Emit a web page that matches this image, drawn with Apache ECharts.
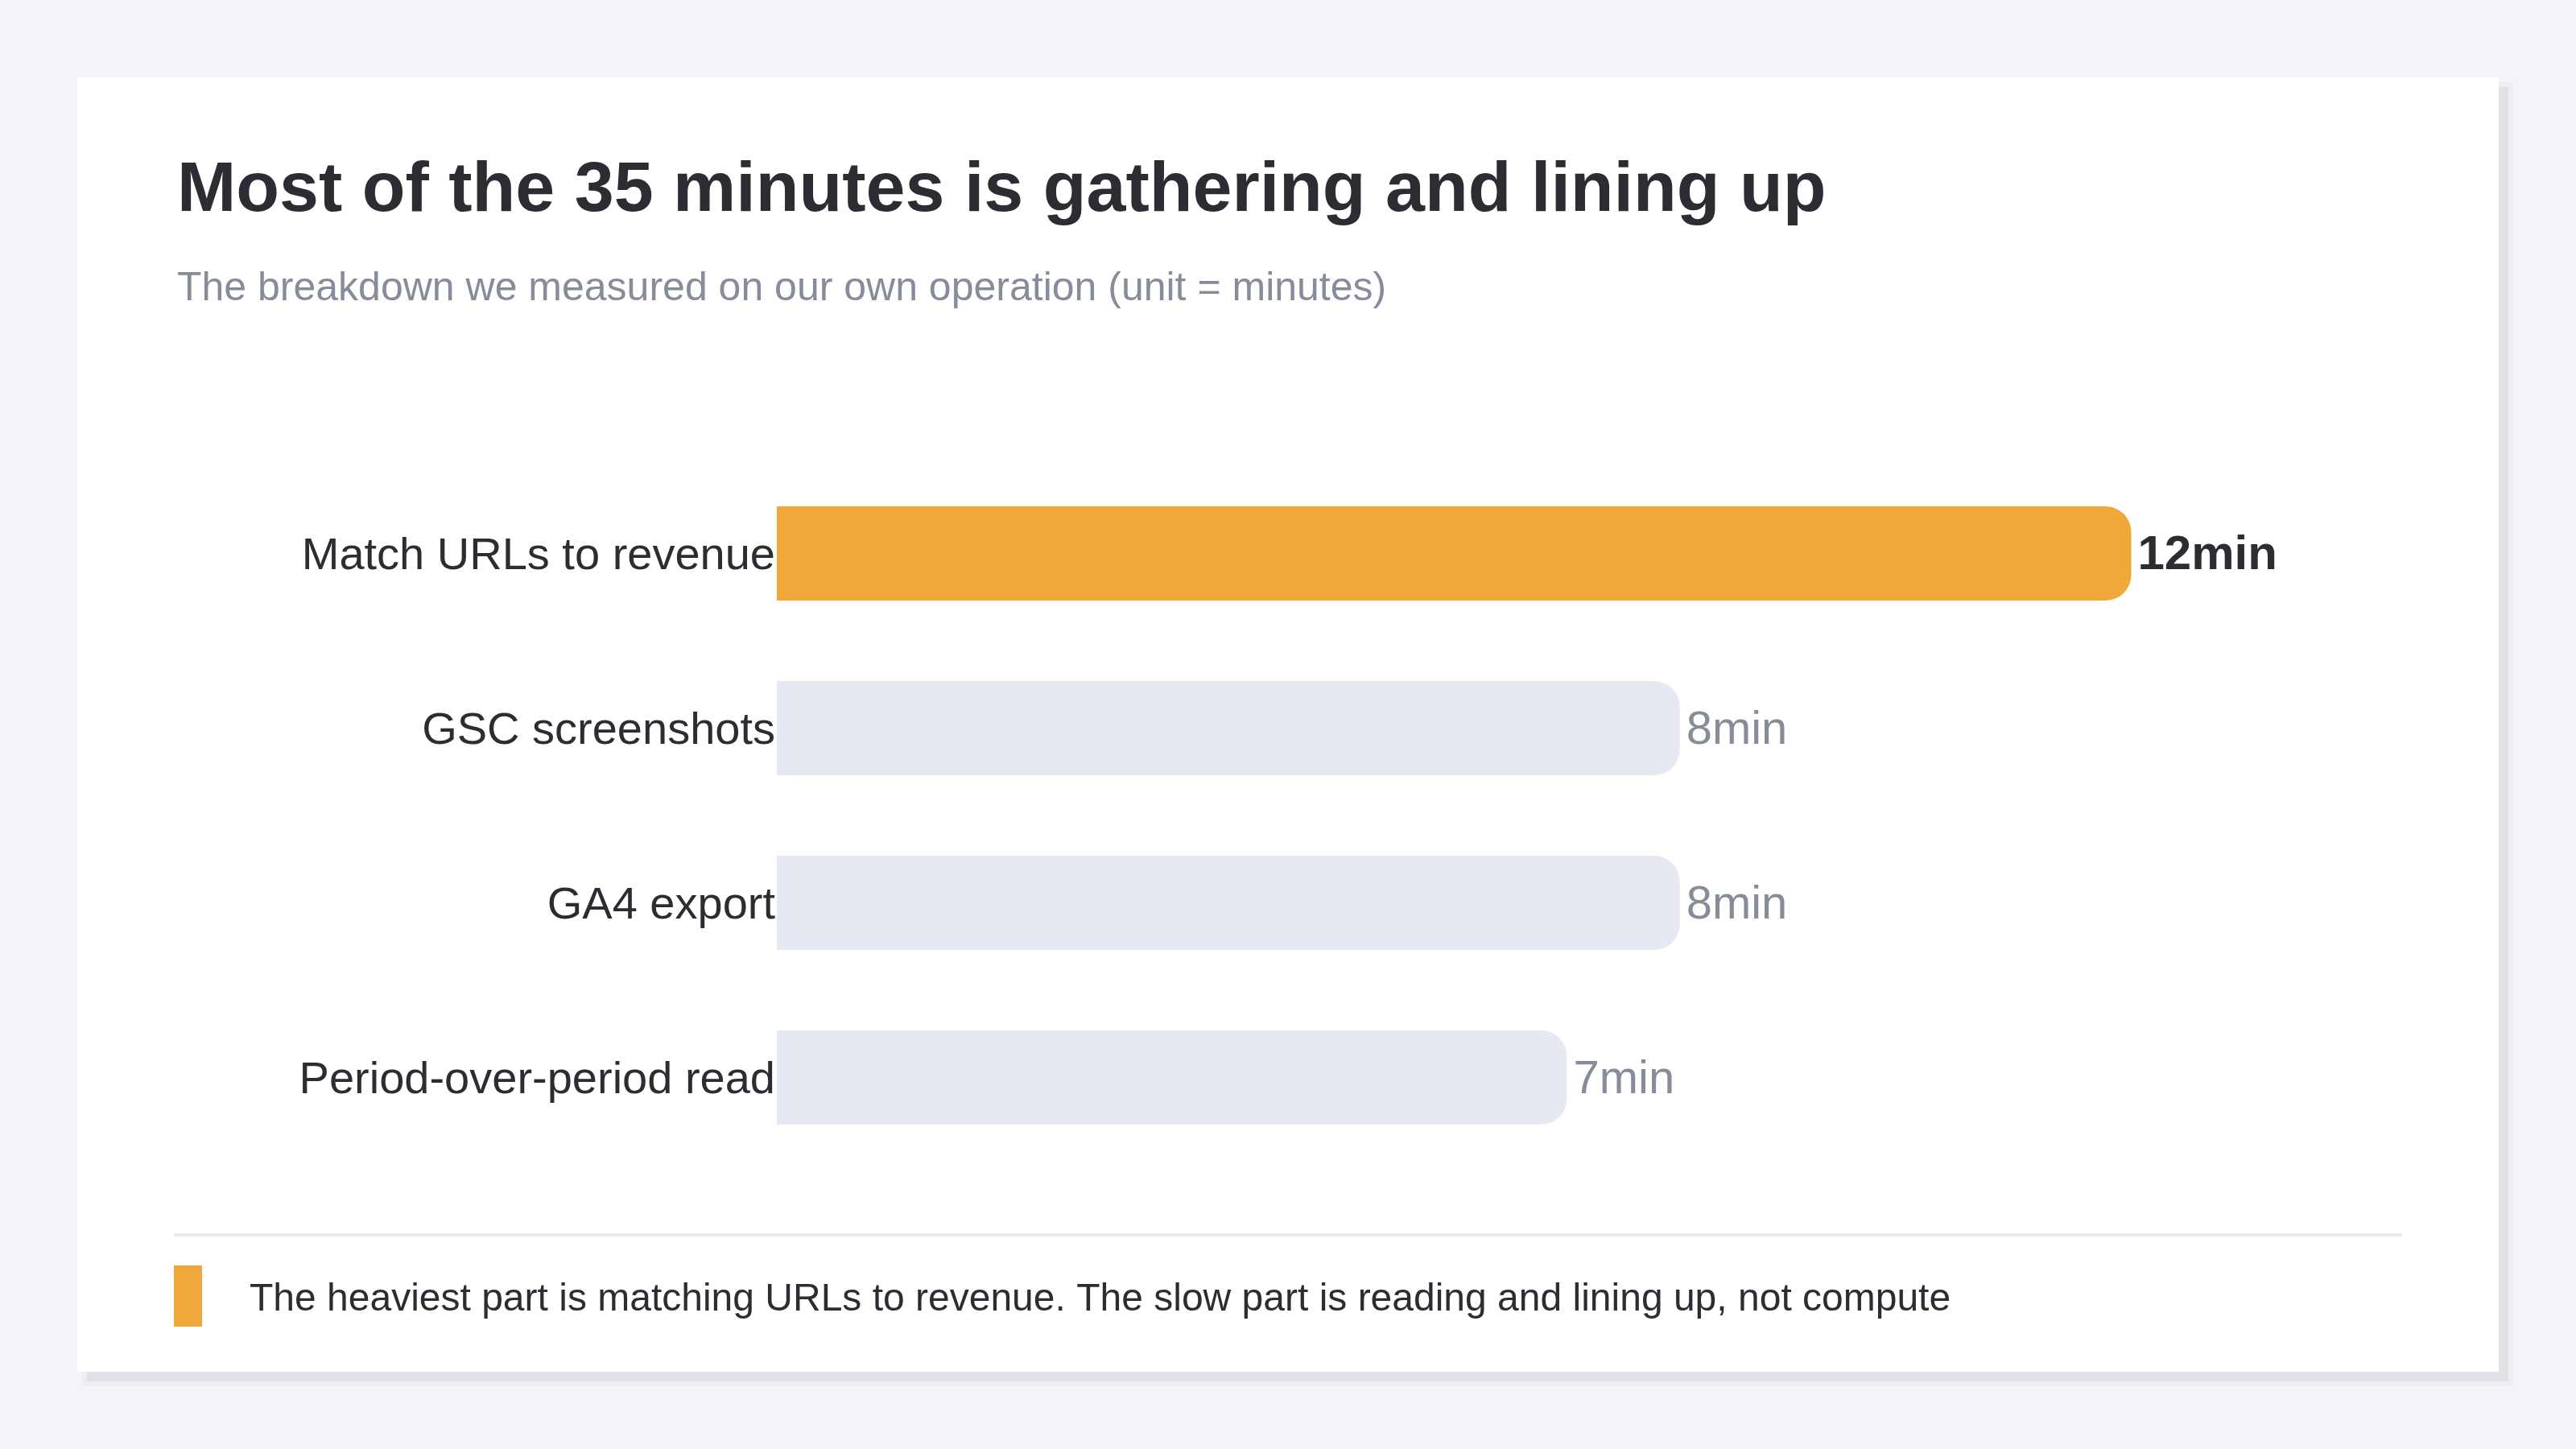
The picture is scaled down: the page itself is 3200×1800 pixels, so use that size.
<!DOCTYPE html>
<html>
<head>
<meta charset="utf-8">
<script src="https://cdn.jsdelivr.net/npm/echarts@6/dist/echarts.min.js"></script>
<style>
  html, body { margin: 0; padding: 0; background: #f3f4f8; }
  #main { width: 3200px; height: 1800px; }
</style>
</head>
<body>
<div id="main"></div>
<script>
/*########  data  ########*/
var categories = ['Match URLs to revenue', 'GSC screenshots', 'GA4 export', 'Period-over-period read'];
var minutes = [12, 8, 8, 7];
var highlight = [true, false, false, false];

var titleText = 'Most of the 35 minutes is gathering and lining up';
var subText = 'The breakdown we measured on our own operation (unit = minutes)';
var noteText = 'The heaviest part is matching URLs to revenue. The slow part is reading and lining up, not compute';

var ORANGE = '#f0a83b';
var GREY_BAR = '#e6e9f1';
var DARK = '#2b2d33';
var GREY_TXT = '#868c99';
var FONT = '"Liberation Sans", Arial, Helvetica, sans-serif';

var barData = minutes.map(function (v, i) {
    var hot = highlight[i];
    return {
        value: v,
        itemStyle: { color: hot ? ORANGE : GREY_BAR },
        label: {
            color: hot ? DARK : GREY_TXT,
            fontWeight: hot ? 'bold' : 'normal',
            fontSize: hot ? 60 : 58
        }
    };
});

var dom = document.getElementById('main');
var myChart = echarts.init(dom);

var option = {
    backgroundColor: '#f3f4f8',
    textStyle: { fontFamily: FONT },
    graphic: [
        // card shadow + card
        { type: 'rect', z: -10, shape: { x: 102, y: 102, width: 3020, height: 1620 }, style: { fill: '#eceef2' } },
        { type: 'rect', z: -9, shape: { x: 108, y: 108, width: 3008, height: 1608 }, style: { fill: '#dfe1e7' } },
        { type: 'rect', z: -8, shape: { x: 96, y: 96, width: 3008, height: 1608 }, style: { fill: '#ffffff' } },
        // title and subtitle
        { type: 'text', z: 5, left: 220, top: 194, style: { text: titleText, fill: DARK, font: 'bold 88px ' + FONT } },
        { type: 'text', z: 5, left: 220, top: 334, style: { text: subText, fill: GREY_TXT, font: '50px ' + FONT } },
        // divider
        { type: 'rect', z: 5, shape: { x: 216, y: 1532, width: 2768, height: 4 }, style: { fill: '#e9ebf0' } },
        // note marker and text
        { type: 'rect', z: 5, shape: { x: 216, y: 1572, width: 35, height: 76 }, style: { fill: ORANGE } },
        { type: 'text', z: 5, left: 310, top: 1591, style: { text: noteText, fill: DARK, font: '48px ' + FONT } }
    ],
    grid: {
        left: 965,
        right: 216,
        top: 579,
        bottom: 353,
        containLabel: false
    },
    xAxis: {
        type: 'value',
        min: 0,
        max: 14.4,
        show: false
    },
    yAxis: {
        type: 'category',
        inverse: true,
        data: categories,
        axisLine: { show: false },
        axisTick: { show: false },
        splitLine: { show: false },
        axisLabel: {
            margin: 2,
            fontSize: 56,
            color: DARK,
            fontFamily: FONT,
            verticalAlign: 'top',
            lineHeight: 8
        }
    },
    series: [
        {
            type: 'bar',
            data: barData,
            barWidth: 117,
            itemStyle: { borderRadius: [0, 32, 32, 0] },
            label: {
                show: true,
                position: 'right',
                distance: 8,
                offset: [0, 3],
                fontSize: 58,
                fontFamily: FONT,
                formatter: '{c}min'
            },
            silent: true,
            animation: false
        }
    ],
    animation: false
};

myChart.setOption(option);
</script>
</body>
</html>
